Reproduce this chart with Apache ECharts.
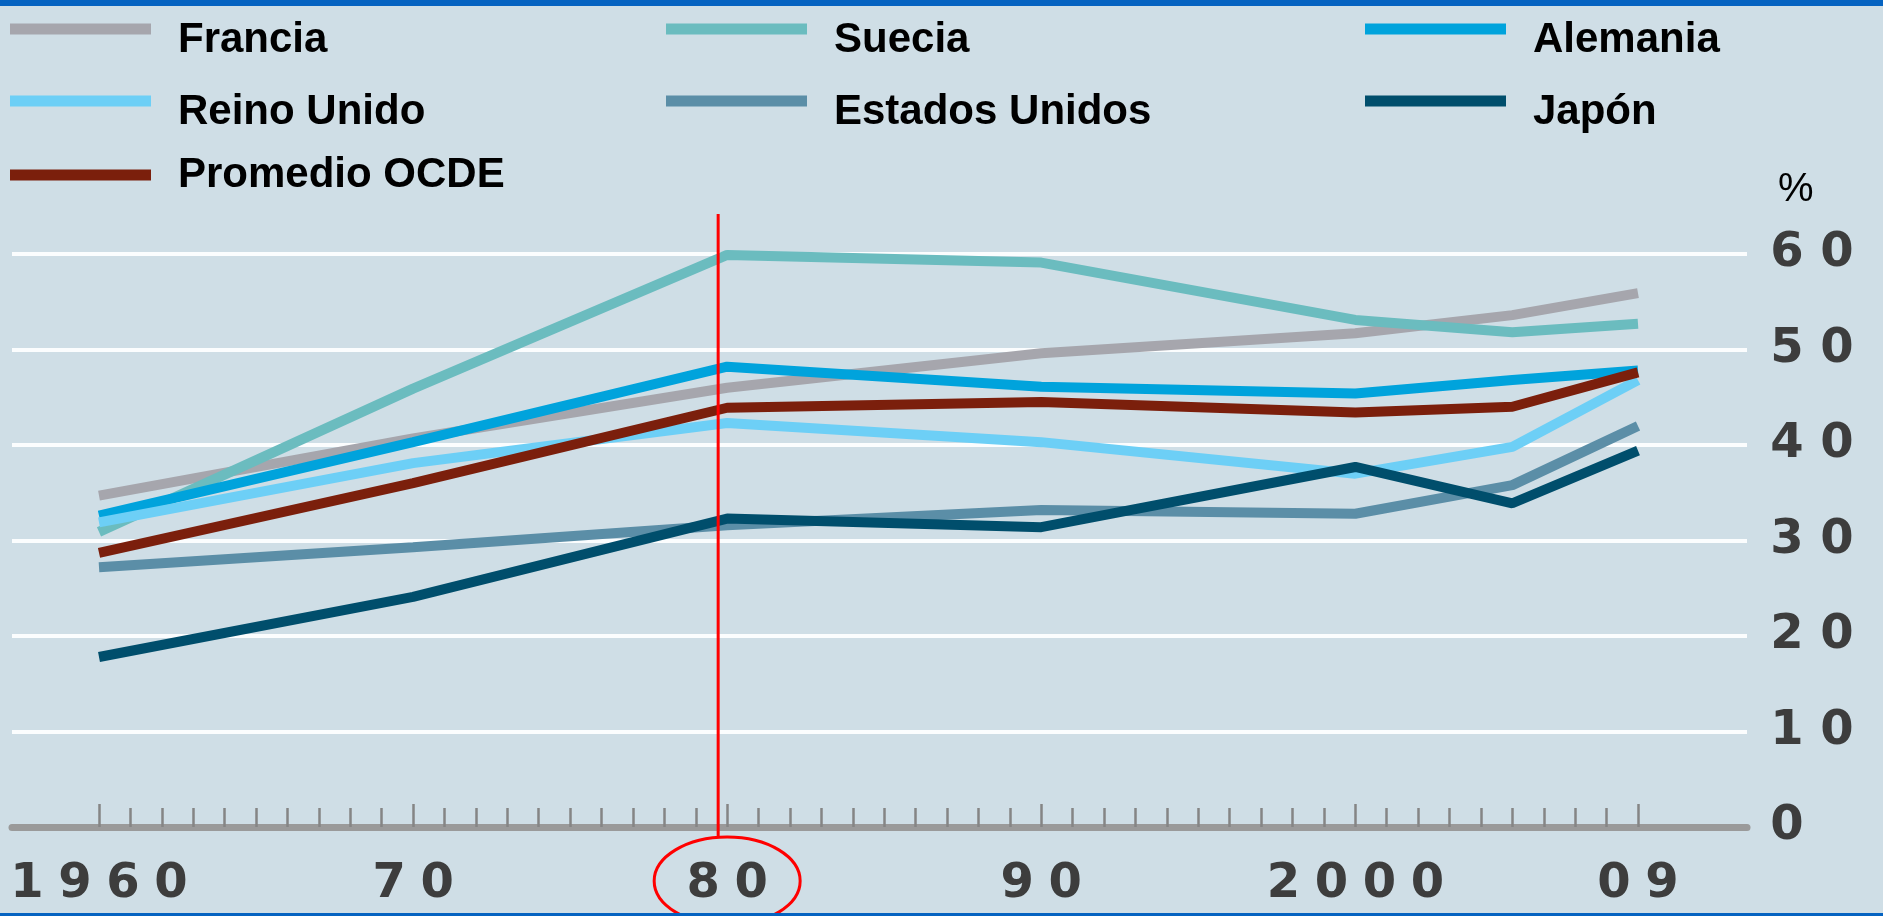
<!DOCTYPE html>
<html>
<head>
<meta charset="utf-8">
<title>Gasto público</title>
<script src="https://cdn.jsdelivr.net/npm/echarts@6/dist/echarts.min.js"></script>
<style>
  html, body { margin: 0; padding: 0; background: #cfdee6; overflow: hidden; }
  #chart { width: 1883px; height: 916px; }
  .bar { position: absolute; left: 0; width: 1883px; background: #0563c1; }
</style>
</head>
<body>
<div id="chart"></div>
<div class="bar" style="top:0;height:6px"></div>
<div class="bar" style="top:913px;height:3px"></div>
<script>
// datos (% del PIB)
const years = [1960, 1970, 1980, 1990, 2000, 2005, 2009];
const francia = [34.7, 40.7, 46.0, 49.6, 51.7, 53.6, 55.9];
const suecia = [30.9, 45.9, 59.9, 59.1, 53.1, 51.8, 52.7];
const alemania = [32.6, 40.3, 48.2, 46.1, 45.4, 46.8, 47.8];
const reinoUnido = [31.9, 38.1, 42.3, 40.3, 37.0, 39.8, 46.8];
const estadosUnidos = [27.2, 29.3, 31.6, 33.2, 32.8, 35.8, 42.0];
const japon = [17.8, 24.1, 32.3, 31.4, 37.7, 33.9, 39.4];
const promedioOCDE = [28.7, 36.0, 43.9, 44.5, 43.4, 44.0, 47.6];

const labelYears = [1960, 1970, 1980, 1990, 2000, 2009];
const labelTexts = ['1960', '70', '80', '90', '2000', '09'];

const seriesDefs = [
  { name: 'Francia', data: francia, color: '#a6a6ad', left: 10, top: 19, va: 'bottom' },
  { name: 'Suecia', data: suecia, color: '#6bbcbf', left: 666, top: 19, va: 'bottom' },
  { name: 'Alemania', data: alemania, color: '#00a3dc', left: 1365, top: 19, va: 'bottom' },
  { name: 'Reino Unido', data: reinoUnido, color: '#6dcff6', left: 10, top: 91, va: 'bottom' },
  { name: 'Estados Unidos', data: estadosUnidos, color: '#5b8ea7', left: 666, top: 91, va: 'bottom' },
  { name: 'Japón', data: japon, color: '#004e6c', left: 1365, top: 91, va: 'bottom' },
  { name: 'Promedio OCDE', data: promedioOCDE, color: '#7b1f0c', left: 10, top: 154, va: 'middle' }
];

// cada cifra en su caja para imitar los números anchos del original
function wide(s, box) {
  return String(s).split('').map(c => '{' + box + '|' + c + '}').join('');
}
const digitStyle = {
  align: 'center', fontSize: 48, lineHeight: 50,
  fontFamily: 'DejaVu Sans', fontWeight: 'bold', color: '#3d3d3d'
};
const digitRich = {
  x: Object.assign({ width: 48 }, digitStyle),
  y: Object.assign({ width: 50 }, digitStyle)
};

const chart = echarts.init(document.getElementById('chart'));

const option = {
  animation: false,
  backgroundColor: '#cfdee6',
  legend: seriesDefs.map(s => ({
    data: [s.name],
    left: s.left,
    top: s.top,
    padding: 0,
    icon: 'rect',
    itemWidth: 141,
    itemHeight: 11,
    formatter: name => '{t|' + name + '}',
    textStyle: {
      padding: [0, 0, 0, 22],
      rich: {
        t: {
          fontFamily: 'Liberation Sans',
          fontWeight: 'bold',
          fontSize: 42,
          lineHeight: 64,
          verticalAlign: s.va,
          color: '#000'
        }
      }
    }
  })),
  grid: [
    { left: 12, right: 136, top: 254, bottom: 89 },
    { left: 97, right: 245, top: 254, bottom: 89 }
  ],
  xAxis: [
    {
      gridIndex: 0, type: 'value', min: 0, max: 1, z: 5,
      axisLine: { show: true, lineStyle: { color: '#9a9a9a', width: 7 } },
      axisTick: { show: false }, axisLabel: { show: false }, splitLine: { show: false }
    },
    {
      gridIndex: 1, type: 'value', min: 1960, max: 2009, interval: 1, position: 'bottom', z: 6,
      axisLine: { show: false },
      splitLine: { show: false },
      axisTick: { show: true, inside: true, length: 19, lineStyle: { color: '#858585', width: 2.5 } },
      axisLabel: {
        margin: 33,
        formatter: v => {
          const i = labelYears.indexOf(Math.round(v));
          return i < 0 ? '' : wide(labelTexts[i], 'x');
        },
        rich: digitRich
      }
    },
    {
      gridIndex: 1, type: 'value', min: 1960, max: 2009, interval: 10, position: 'bottom', z: 6,
      axisLine: { show: false },
      splitLine: { show: false },
      axisTick: { show: true, inside: true, length: 23, lineStyle: { color: '#858585', width: 2.5 } },
      axisLabel: { show: false }
    }
  ],
  yAxis: [
    {
      gridIndex: 0, type: 'value', min: 0, max: 60, interval: 10, position: 'right',
      axisLine: { show: false, onZero: false }, axisTick: { show: false },
      splitLine: { show: true, lineStyle: { color: '#fbfdfe', width: 4 } },
      axisLabel: { margin: 15, formatter: v => wide(v, 'y'), rich: digitRich },
      name: '%',
      nameLocation: 'end',
      nameGap: 44,
      nameTextStyle: {
        fontFamily: 'Liberation Sans', fontSize: 40, color: '#000',
        align: 'left', padding: [0, 0, 0, 31]
      }
    },
    {
      gridIndex: 1, type: 'value', min: 0, max: 60, show: false
    }
  ],
  series: seriesDefs.map(s => ({
    name: s.name,
    type: 'line',
    xAxisIndex: 1,
    yAxisIndex: 1,
    color: s.color,
    symbol: 'none',
    lineStyle: { width: 10, color: s.color, cap: 'butt' },
    data: years.map((y, i) => [y, s.data[i]])
  }))
};

chart.setOption(option);

// anotación roja sobre 1980
const p0 = chart.convertToPixel({ xAxisIndex: 1, yAxisIndex: 1 }, [1980, 0]);
const pTop = chart.convertToPixel({ xAxisIndex: 1, yAxisIndex: 1 }, [1980, 64.2]);
chart.setOption({
  graphic: [
    {
      type: 'line', z: 20,
      shape: { x1: p0[0] - 9, y1: pTop[1], x2: p0[0] - 9, y2: p0[1] + 10 },
      style: { stroke: '#ff0000', lineWidth: 3 }
    },
    {
      type: 'ellipse', z: 20,
      shape: { cx: p0[0], cy: p0[1] + 54, rx: 73, ry: 44 },
      style: { stroke: '#ff0000', fill: 'none', lineWidth: 3 }
    }
  ]
});
</script>
</body>
</html>
